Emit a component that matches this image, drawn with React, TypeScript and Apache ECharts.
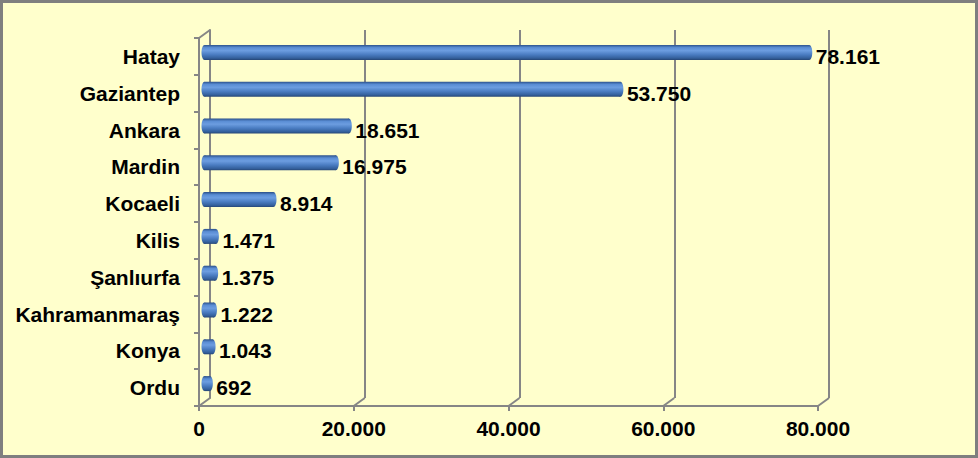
import React, { useEffect, useRef } from "react";
import * as echarts from "echarts";

const categories = ["Hatay", "Gaziantep", "Ankara", "Mardin", "Kocaeli", "Kilis", "Şanlıurfa", "Kahramanmaraş", "Konya", "Ordu"];
const values = [78161, 53750, 18651, 16975, 8914, 1471, 1375, 1222, 1043, 692];
const xTicks = [0, 20000, 40000, 60000, 80000];

const fmt = (v: number) => String(v).replace(/\B(?=(\d{3})+(?!\d))/g, ".");

const FONT = "Arial, 'Liberation Sans', sans-serif";
const FS = 21;
const GRAY = "#868686";
const DX = 11;
const DY = -8;

export default function App() {
  const ref = useRef<HTMLDivElement>(null);
  useEffect(() => {
    document.body.style.margin = "0";
    const chart = echarts.init(ref.current!, undefined, { renderer: "svg" });
    const barGrad = () =>
      new echarts.graphic.LinearGradient(0, 0, 0, 1, [
        { offset: 0, color: "#2b5089" },
        { offset: 0.18, color: "#5a8dd4" },
        { offset: 0.38, color: "#6c9de0" },
        { offset: 0.65, color: "#4a7cc1" },
        { offset: 0.88, color: "#34609c" },
        { offset: 1, color: "#264676" },
      ]);
    chart.setOption({
      animation: false,
      backgroundColor: "#FFFFCC",
      graphic: [
        {
          type: "rect",
          shape: { x: 1.5, y: 1.5, width: 975, height: 455 },
          style: { fill: "none", stroke: "#7f7f7f", lineWidth: 3 },
          z: 100,
        },
      ],
      grid: [
        { left: 199, right: 160, top: 38, bottom: 52 },
        { left: 210, right: 149, top: 30, bottom: 60 },
      ],
      xAxis: [
        {
          type: "value",
          gridIndex: 0,
          min: 0,
          max: 80000,
          interval: 20000,
          axisLine: { show: true, lineStyle: { color: GRAY, width: 2 } },
          axisTick: { show: true, length: 5, lineStyle: { color: GRAY, width: 2 } },
          splitLine: { show: false },
          axisLabel: {
            margin: 12,
            color: "#000",
            fontFamily: FONT,
            fontWeight: "bold",
            fontSize: FS,
            formatter: (v: number) => fmt(v),
          },
        },
        {
          type: "value",
          gridIndex: 1,
          min: 0,
          max: 80000,
          interval: 20000,
          axisLine: { show: false },
          axisTick: { show: false },
          axisLabel: { show: false },
          splitLine: { show: true, lineStyle: { color: GRAY, width: 2 } },
        },
      ],
      yAxis: [
        {
          type: "category",
          gridIndex: 0,
          inverse: true,
          data: categories,
          axisLine: { show: true, lineStyle: { color: GRAY, width: 2 } },
          axisTick: { show: true, length: 5, lineStyle: { color: GRAY, width: 2 } },
          axisLabel: {
            margin: 19,
            color: "#000",
            fontFamily: FONT,
            fontWeight: "bold",
            fontSize: FS,
          },
        },
        {
          type: "category",
          gridIndex: 1,
          inverse: true,
          data: categories,
          axisLine: { show: true, lineStyle: { color: GRAY, width: 2 } },
          axisTick: { show: false },
          axisLabel: { show: false },
        },
      ],
      series: [
        {
          type: "custom",
          name: "floor",
          xAxisIndex: 0,
          yAxisIndex: 0,
          data: xTicks,
          z: 1,
          renderItem: (params: any, api: any) => {
            const cs = params.coordSys;
            const v = api.value(0);
            const x = api.coord([v, 0])[0];
            const y = cs.y + cs.height;
            const children: any[] = [
              {
                type: "line",
                shape: { x1: x, y1: y, x2: x + DX, y2: y + DY },
                style: { stroke: GRAY, lineWidth: 2 },
              },
            ];
            if (params.dataIndex === 0) {
              children.push({
                type: "line",
                shape: { x1: cs.x, y1: cs.y, x2: cs.x + DX, y2: cs.y + DY },
                style: { stroke: GRAY, lineWidth: 2 },
              });
            }
            return { type: "group", children };
          },
        },
        {
          type: "custom",
          name: "bars",
          xAxisIndex: 0,
          yAxisIndex: 0,
          data: values.map((v, i) => [v, i]),
          z: 5,
          renderItem: (params: any, api: any) => {
            const v = api.value(0);
            const i = api.value(1);
            const p0 = api.coord([0, i]);
            const p1 = api.coord([v, i]);
            const ox = DX / 2;
            const cy = p0[1] + DY / 2;
            const h = 15;
            const x0 = p0[0] + ox;
            const x1 = p1[0] + ox;
            const rx = 3;
            return {
              type: "group",
              children: [
                {
                  type: "ellipse",
                  shape: { cx: x0, cy, rx, ry: h / 2 },
                  style: { fill: barGrad() },
                },
                {
                  type: "rect",
                  shape: { x: x0, y: cy - h / 2, width: Math.max(x1 - x0, 0), height: h },
                  style: { fill: barGrad() },
                },
                {
                  type: "ellipse",
                  shape: { cx: x1, cy, rx, ry: h / 2 },
                  style: { fill: barGrad() },
                },
                {
                  type: "text",
                  style: {
                    text: fmt(v),
                    x: p1[0] + 12,
                    y: p0[1],
                    align: "left",
                    verticalAlign: "middle",
                    fill: "#000",
                    fontFamily: FONT,
                    fontWeight: "bold",
                    fontSize: FS,
                  },
                },
              ],
            };
          },
        },
      ],
    });
    return () => chart.dispose();
  }, []);
  return <div ref={ref} style={{ width: 978, height: 458 }} />;
}
